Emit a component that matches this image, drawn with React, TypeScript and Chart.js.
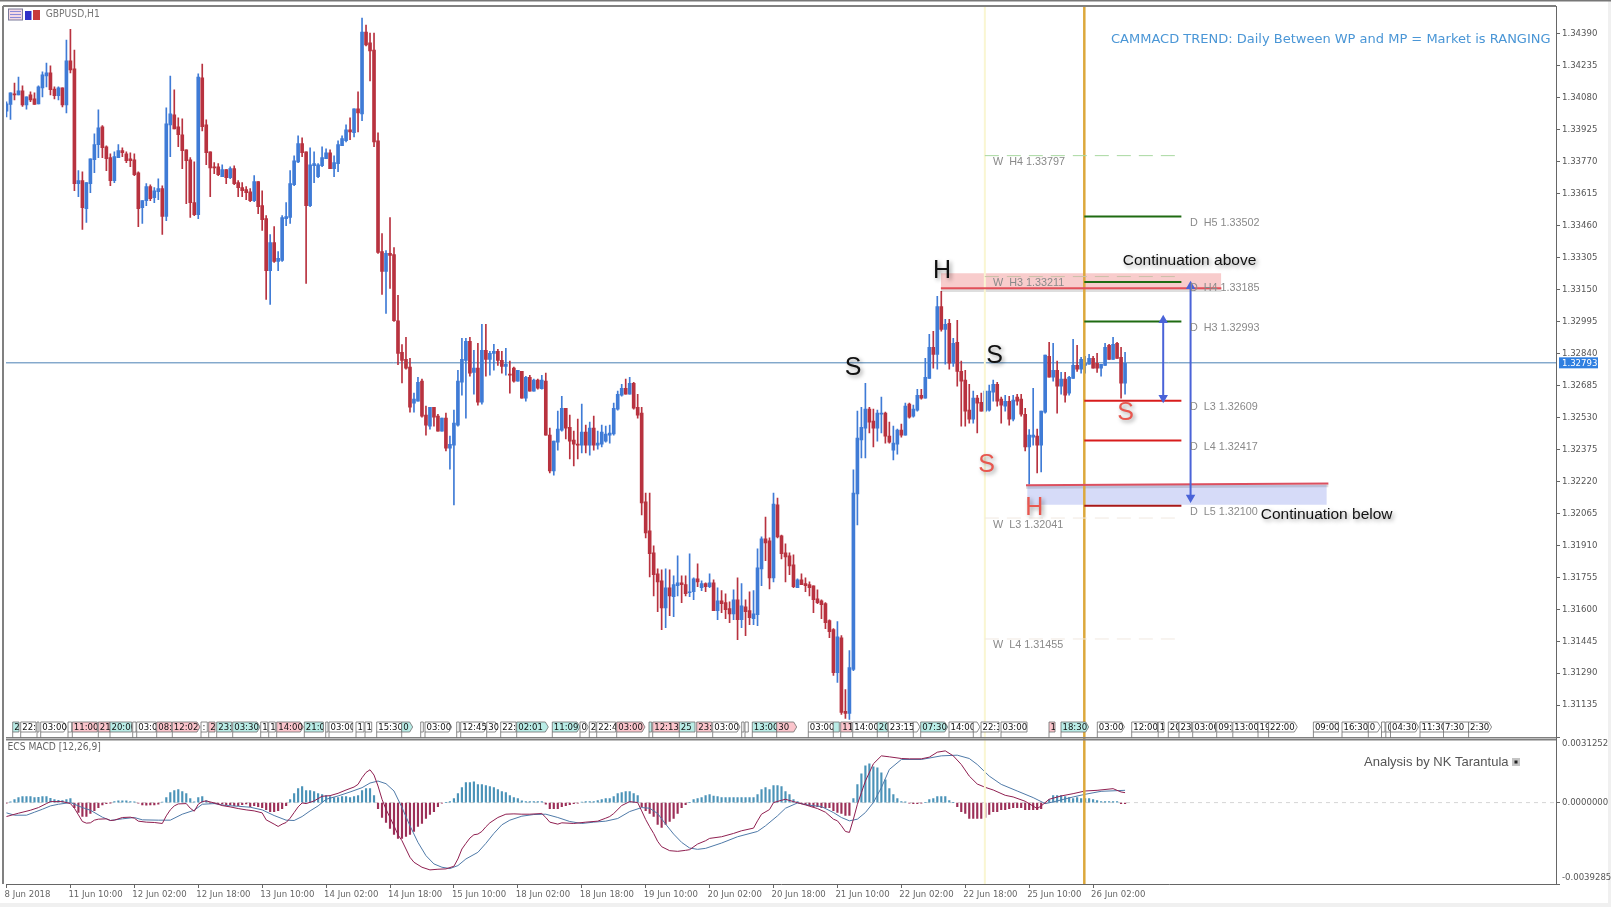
import React, { useEffect, useRef } from "react";
import { Chart, registerables } from "chart.js";

Chart.register(...registerables);

// ---- price candles (price x 100000), one entry per hourly bar ----
const highs = [
134058,134101,134149,134178,134135,134082,134106,134101,134135,134203,
134246,134232,134130,134130,134125,134357,134409,134309,133724,133719,
133666,133782,133903,134019,133942,133845,133806,133816,133850,133835,
133816,133811,133806,133719,133579,133661,133656,133642,133685,133651,
134029,134183,134116,133980,133975,133825,133787,133767,134193,134241,
133971,133816,133763,133758,133753,133729,133743,133748,133676,133666,
133647,133637,133700,133671,133627,133506,133415,133453,133332,133506,
133569,133724,133796,133893,133883,133816,133835,133816,133758,133840,
133830,133825,133796,133869,133893,133946,133980,134024,134106,134464,
134430,134391,134391,133908,133419,133337,133497,133352,133120,132881,
132917,132815,132646,132723,132714,132583,132578,132578,132544,132525,
132549,132438,132564,132757,132912,132912,132917,132854,132888,132979,
132979,132849,132883,132859,132849,132863,132801,132772,132757,132752,
132728,132733,132714,132714,132733,132743,132477,132414,132559,132631,
132573,132540,132462,132520,132593,132491,132506,132535,132462,132491,
132486,132491,132598,132656,132689,132714,132723,132699,132641,132578,
132162,132162,131906,131795,131790,131795,131790,131761,131858,131761,
131761,131868,131751,131819,131737,131727,131771,131742,131703,131689,
131674,131635,131693,131751,131723,131645,131684,131689,131892,131950,
132046,131945,132162,132138,131959,131916,131872,131863,131747,131771,
131751,131732,131713,131693,131645,131631,131548,131505,131539,131471,
131210,131399,132274,132559,132578,132694,132578,132569,132564,132627,
132554,132506,132486,132472,132496,132598,132598,132588,132665,132665,
132815,132931,132946,133115,133139,133004,133004,132912,132999,132801,
132757,132689,132656,132636,132646,132656,132685,132709,132699,132627,
132636,132631,132636,132641,132641,132573,132470,132670,132472,132559,
132830,132892,132888,132801,132747,132747,132728,132907,132878,132820,
132825,132834,132825,132839,132786,132888,132883,132917,132892,132868,
132844];
const lows = [
133985,133972,134067,134091,134035,134022,134058,134045,134048,134082,
134130,134091,134072,134067,134033,134004,134198,133627,133598,133439,
133473,133618,133714,133787,133787,133724,133651,133666,133787,133792,
133763,133743,133700,133453,133468,133555,133579,133569,133584,133415,
133482,133792,133927,133840,133734,133564,133497,133506,133492,133917,
133753,133598,133709,133700,133695,133661,133685,133656,133598,133598,
133584,133574,133574,133516,133434,133100,133076,133279,133240,133284,
133458,133468,133651,133763,133792,133178,133550,133666,133690,133743,
133782,133734,133695,133719,133845,133864,133874,133888,133912,133966,
134328,134159,133840,133323,133124,133033,133154,132994,132784,132696,
132762,132554,132554,132607,132530,132443,132472,132486,132462,132462,
132366,132278,132105,132486,132636,132525,132728,132641,132588,132593,
132728,132733,132757,132781,132743,132733,132646,132699,132704,132622,
132607,132656,132656,132665,132665,132443,132259,132249,132370,132462,
132424,132327,132293,132327,132356,132356,132346,132370,132375,132385,
132409,132404,132443,132564,132631,132641,132641,132569,132525,132056,
131945,131756,131664,131587,131500,131510,131568,131563,131664,131631,
131664,131660,131645,131708,131689,131684,131703,131592,131548,131582,
131553,131534,131548,131452,131510,131471,131524,131524,131519,131713,
131834,131698,131732,131945,131843,131732,131766,131703,131703,131718,
131684,131664,131582,131626,131553,131505,131461,131278,131244,131089,
131070,131065,131302,132008,132332,132332,132453,132385,132414,132453,
132404,132404,132322,132351,132433,132443,132525,132530,132559,132617,
132622,132718,132767,132762,132946,132786,132762,132776,132680,132486,
132486,132501,132501,132453,132559,132554,132559,132607,132583,132501,
132559,132491,132511,132588,132535,132366,132205,132394,132259,132264,
132549,132723,132704,132549,132641,132602,132636,132718,132752,132743,
132743,132786,132767,132747,132728,132781,132810,132810,132815,132622,
132641];
const opens = [
134012,134045,134096,134091,134111,134043,134091,134072,134048,134125,
134183,134198,134120,134087,134125,134043,134256,134217,133661,133676,
133540,133661,133777,133850,133937,133840,133787,133676,133787,133821,
133806,133782,133777,133714,133545,133579,133647,133593,133622,133637,
133502,133946,133995,133937,133898,133825,133777,133569,133511,134174,
133946,133816,133743,133743,133695,133729,133690,133734,133666,133642,
133632,133622,133579,133671,133555,133492,133240,133376,133284,133289,
133492,133497,133656,133767,133855,133816,133555,133748,133695,133748,
133782,133811,133734,133758,133845,133869,133922,133908,134024,133999,
134396,134343,134309,133869,133332,133236,133323,133318,132997,132844,
132810,132772,132598,132607,132704,132540,132486,132578,132535,132462,
132525,132380,132394,132491,132699,132805,132897,132747,132767,132602,
132854,132810,132839,132849,132805,132776,132738,132767,132704,132752,
132622,132723,132656,132709,132668,132704,132443,132269,132409,132467,
132573,132481,132419,132399,132394,132457,132394,132477,132394,132399,
132414,132443,132448,132569,132636,132670,132641,132694,132578,132549,
132119,131979,131872,131771,131737,131606,131703,131660,131713,131727,
131718,131679,131684,131747,131703,131723,131708,131727,131592,131640,
131631,131602,131577,131645,131548,131611,131592,131553,131573,131795,
131940,131930,131751,132105,131955,131872,131858,131814,131703,131742,
131723,131718,131713,131650,131640,131626,131544,131500,131292,131461,
131104,131094,131307,132158,132419,132477,132569,132511,132477,132544,
132549,132438,132370,132399,132467,132443,132593,132535,132564,132636,
132622,132718,132868,132834,133066,132955,132984,132791,132892,132752,
132709,132564,132520,132622,132602,132559,132564,132651,132689,132617,
132583,132607,132520,132627,132617,132544,132385,132433,132438,132394,
132554,132825,132723,132757,132680,132714,132646,132718,132781,132762,
132781,132786,132815,132791,132767,132781,132878,132810,132888,132820,
132694];
const closes = [
134048,134101,134091,134111,134043,134082,134067,134045,134130,134188,
134198,134116,134087,134125,134043,134256,134212,133661,133676,133545,
133666,133782,133850,133932,133835,133782,133676,133792,133821,133811,
133772,133772,133705,133540,133579,133647,133589,133627,133637,133502,
133951,133999,133927,133898,133821,133772,133569,133511,134178,133937,
133811,133738,133738,133705,133729,133690,133734,133661,133642,133627,
133618,133579,133671,133550,133487,133240,133376,133284,133299,133497,
133502,133661,133772,133855,133811,133555,133753,133758,133753,133787,
133811,133734,133763,133850,133879,133922,133912,134024,134004,134396,
134333,134304,133864,133328,133236,133323,133313,132997,132839,132805,
132767,132578,132617,132699,132535,132491,132578,132530,132462,132525,
132380,132398,132501,132704,132810,132897,132743,132767,132602,132854,
132810,132839,132849,132805,132776,132786,132733,132704,132757,132622,
132723,132656,132709,132670,132709,132443,132269,132414,132472,132573,
132477,132414,132399,132394,132457,132394,132477,132394,132404,132457,
132448,132453,132573,132641,132670,132641,132694,132573,132540,132114,
131969,131868,131766,131732,131606,131703,131664,131718,131727,131718,
131674,131684,131747,131732,131723,131708,131727,131592,131640,131626,
131597,131577,131645,131548,131616,131587,131558,131577,131800,131940,
131921,131751,132109,131950,131868,131853,131809,131708,131742,131718,
131713,131703,131645,131631,131621,131534,131490,131292,131466,131099,
131094,131317,132162,132428,132481,132569,132506,132477,132549,132549,
132438,132409,132404,132467,132443,132583,132530,132569,132636,132622,
132723,132868,132834,133066,132955,132979,132791,132888,132752,132704,
132559,132520,132622,132598,132559,132656,132656,132689,132607,132588,
132607,132520,132612,132607,132544,132385,132443,132443,132394,132559,
132830,132723,132757,132680,132714,132636,132723,132781,132762,132810,
132791,132815,132767,132767,132786,132868,132810,132883,132815,132694,
132791];

// ---- MACD histogram, one entry per bar (x 1e-6) ----
const macdHist = [
-32,32,144,240,288,288,288,240,256,288,
288,208,144,112,96,144,192,-240,-480,-672,
-672,-528,-384,-240,-112,-48,-16,48,80,80,
80,48,32,-32,-112,-128,-112,-112,-80,16,
240,480,576,624,528,432,192,32,240,288,
96,-16,-48,-48,-64,-96,-96,-144,-144,-96,
-64,-192,-144,-192,-240,-336,-432,-432,-384,-288,
-144,144,432,672,768,576,576,528,432,384,
336,288,240,240,288,288,240,288,336,576,
672,672,336,-288,-720,-960,-1248,-1536,-1728,-1728,
-1632,-1536,-1392,-1152,-1008,-768,-576,-432,-192,-32,
0,48,192,432,720,960,960,1008,864,864,
816,768,720,624,528,480,336,240,192,80,
48,48,48,48,48,-80,-288,-288,-288,-192,
-144,-96,-48,-32,16,48,48,48,96,144,
192,192,288,432,480,528,528,432,336,-192,
-384,-528,-672,-1056,-1200,-1056,-912,-768,-528,-240,
-96,0,144,192,240,336,384,320,288,240,
240,240,240,240,240,240,240,240,384,624,
720,624,816,816,768,528,384,144,48,-48,
-96,-144,-192,-192,-240,-240,-240,-384,-480,-528,
-624,-624,192,864,1392,1776,1872,1728,1680,1440,
1104,672,384,192,48,32,-32,-48,-48,-32,
0,144,192,288,288,288,96,0,-192,-432,
-528,-768,-768,-768,-768,-720,-576,-432,-432,-336,
-336,-288,-240,-240,-240,-336,-336,-336,-336,-288,
-48,144,336,336,336,288,240,192,240,192,
192,192,144,96,48,48,48,48,48,-48,
-48];

// ---- MACD main line, read at the bars listed (x 1e-6) ----
const macdLineBars = [0,3,6,8,10,11,14,16,17,18,19,20,21,22,23,25,26,27,29,31,32,33,35,37,39,40,41,42,43,45,46,47,48,49,50,52,54,56,58,60,62,64,65,67,68,69,70,71,72,73,74,75,77,79,81,83,85,87,88,89,90,91,92,93,94,95,96,97,98,99,100,101,102,104,106,108,110,112,113,114,115,116,117,118,119,120,121,123,125,127,129,131,134,135,136,138,139,142,145,148,150,151,152,154,156,158,159,160,161,162,163,164,166,168,170,171,173,175,176,179,182,184,187,188,189,191,192,194,195,197,200,203,205,207,208,209,210,211,212,213,214,215,217,219,221,224,226,229,231,233,235,237,239,241,243,245,247,250,252,255,258,259,261,264,267,270,273,277,279,280];
const macdLine = [-672,-512,-368,-240,-48,48,48,-48,-272,-592,-912,-992,-976,-848,-800,-784,-864,-848,-720,-704,-752,-896,-944,-960,-1008,-640,-352,-160,-64,-48,-272,-416,-80,48,80,-16,-144,-208,-288,-352,-400,-496,-832,-1040,-1152,-1040,-960,-752,-480,-208,-16,-48,80,304,336,448,608,752,880,1200,1456,1584,1328,800,160,-320,-720,-1120,-1552,-1840,-2240,-2640,-2880,-3120,-3248,-3216,-3200,-3072,-2720,-2240,-1968,-1712,-1552,-1520,-1392,-1168,-976,-720,-560,-544,-560,-560,-528,-720,-944,-1040,-976,-1008,-944,-896,-752,-672,-528,-144,48,0,-400,-816,-1168,-1488,-1872,-2128,-2320,-2352,-2304,-2272,-2000,-1840,-1728,-1648,-1488,-1360,-1232,-880,-560,-336,0,112,160,48,-112,-288,-464,-800,-880,-1120,-1392,-1440,-800,-80,480,1040,1872,2256,2208,2128,2112,2112,2192,2432,2496,2256,1840,1280,896,736,608,352,272,64,-288,-160,160,320,432,560,592,672,512,480];

// ---- MACD signal line, read at the bars listed (x 1e-6) ----
const signalLineBars = [0,2,5,7,9,11,13,16,19,21,24,26,29,32,34,38,41,44,47,49,52,55,58,61,64,67,70,72,74,76,78,80,83,86,89,91,93,95,97,99,101,103,105,107,109,111,113,115,118,120,122,124,126,129,132,135,138,141,144,147,150,153,156,159,161,163,165,167,169,171,173,175,179,183,188,190,193,195,198,201,204,207,209,211,213,215,217,219,221,224,229,234,238,241,243,246,249,253,257,260,262,267,270,274,280];
const signalLine = [-496,-608,-608,-464,-320,-160,-80,0,-240,-368,-704,-864,-784,-720,-832,-848,-848,-560,-368,-80,-48,-144,-176,-224,-352,-624,-848,-864,-672,-400,-160,160,320,512,720,944,1040,912,560,-240,-1120,-1920,-2560,-2960,-3120,-3184,-3040,-2720,-2400,-1968,-1488,-1072,-848,-656,-576,-560,-720,-912,-1008,-944,-896,-768,-432,-240,-272,-528,-1040,-1520,-1920,-2192,-2256,-2208,-1952,-1648,-1392,-1120,-640,-272,-16,-128,-192,-480,-720,-880,-800,-480,0,720,1600,2080,2080,2256,2288,2128,1840,1280,880,560,240,-48,32,272,400,544,592];

// ---- axes ----
const priceTicks = [1.3439,1.34235,1.3408,1.33925,1.3377,1.33615,1.3346,1.33305,1.3315,1.32995,1.3284,1.32685,1.3253,1.32375,1.3222,1.32065,1.3191,1.31755,1.316,1.31445,1.3129,1.31135];
const timeTickBars = [0,16,32,48,64,80,96,112,128,144,160,176,192,208,224,240,256,272];
const timeLabels = ["8 Jun 2018","11 Jun 10:00","12 Jun 02:00","12 Jun 18:00","13 Jun 10:00","14 Jun 02:00","14 Jun 18:00","15 Jun 10:00","18 Jun 02:00","18 Jun 18:00","19 Jun 10:00","20 Jun 02:00","20 Jun 18:00","21 Jun 10:00","22 Jun 02:00","22 Jun 18:00","25 Jun 10:00","26 Jun 02:00"];
const macdTop = 0.0031252;
const macdBottom = -0.0039285;
const currentPrice = 1.32793;

// ---- pivot levels ----
const dailyLevels = [
  { name: "D  H5 1.33502", price: 1.33502, color: "#1f6b12" },
  { name: "D  H4 1.33185", price: 1.33185, color: "#1f6b12" },
  { name: "D  H3 1.32993", price: 1.32993, color: "#1f6b12" },
  { name: "D  L3 1.32609", price: 1.32609, color: "#d81c1c" },
  { name: "D  L4 1.32417", price: 1.32417, color: "#d81c1c" },
  { name: "D  L5 1.32100", price: 1.321, color: "#a81818" },
];
const weeklyLevels = [
  { name: "W  H4 1.33797", price: 1.33797, color: "#a8d8a0" },
  { name: "W  H3 1.33211", price: 1.33211, color: "#c9c0a8" },
  { name: "W  L3 1.32041", price: 1.32041, color: "#f0e8e0" },
  { name: "W  L4 1.31455", price: 1.31455, color: "#f0e8e0" },
];

// ---- event tags on the bottom row of the price pane: [left, right, label, fill, arrow] ----
type Tag = [number, number, string, "w" | "p" | "c", number?];
const tags: Tag[] = [
[12.7,19,"2","c"],[20.7,36,"22:00","w"],[37,39,"","w"],[40.7,66.7,"03:00","w",1],[68,71.7,"","w"],[72.3,97.3,"11:00","p"],[98.3,110,"21","p"],[110,131.7,"20:00","c"],[132.7,136,"","w"],[136.7,156,"03:00","w"],[156.7,171.7,"08:00","p"],[172.3,200,"12:02","p",1],[201,207.3,":","w"],[208.7,215,"2","p"],[216.7,231.7,"23:00","c"],[232.7,260,"03:30","c",1],[260.7,267.7,"1","w"],[268.7,275.3,"1","w"],[276.7,303.3,"14:00","p",1],[304.3,323.3,"21:00","c"],[325.7,328,"","w"],[329,352.7,"03:00","w"],[356,364,"1","w"],[365,371.7,"1","w"],[376.7,401.7,"15:30","w"],[401.7,412.7,"0","c",1],[420.7,423.3,"","w"],[425,451.7,"03:00","w",1],[456.7,459.3,"","w"],[460.7,486.7,"12:45","w",1],[486.7,498.3,"30","w",1],
[500.7,516,"22:00","w"],[516.7,548.3,"02:01","c",1],[552.3,580,"11:09","c",1],[580,588.3,"0","w",1],[589.3,596,"2","w"],[596.7,615.7,"22:45","w"],[616.7,645,"03:00","p",1],[649,651.7,"","c"],[652.7,679.3,"12:13","p"],[679.3,695,"25","c"],[696.7,711.7,"23:00","p"],[712.7,740,"03:00","w",1],[741.7,744,"","w"],[745,748.3,"","w"],[752.3,776.7,"13:00","c"],[776.7,796.7,"30","p",1],[808.3,833.3,"03:00","w"],[833.3,839.3,"","c"],[840.7,851.7,"11","p"],[852.7,877.3,"14:00","w"],[877.3,887.3,"20","c"],[888.3,913.3,"23:15","w"],[913.3,920,"","w",1],[920.7,947.7,"07:30","c",1],[949,973.3,"14:00","w"],[973.3,980,"","w",1],[981,999,"22:30","w"],[1001,1027,"03:00","w"],[1049,1055,"1","p"],[1061,1088.7,"18:30","c",1],[1097.3,1124.5,"03:00","w",1],[1131.7,1157.5,"12:00","w"],[1158.2,1164,"1","w"],[1168.3,1178.3,"20","w"],[1179,1191.6,"23","w"],[1192.7,1215.6,"03:00","w"],[1216.7,1232,"09:","w"],[1232.8,1258,"13:00","w"],[1258,1268.6,"19","w"],[1268.6,1297.3,"22:00","w",1],[1313.4,1338.5,"09:00","w"],[1342,1368.3,"16:30","w"],[1368.3,1380.5,"0","w",1],[1381.5,1385,"","w"],[1385.8,1390.5,"(","w"],[1390.5,1418.5,"04:30","w",1],[1420,1443.5,"11:30","w"],[1443.5,1468.6,"7:30","w"],[1468.6,1491.6,"2:30","w",1],
];
const tagFill = { w: "#ffffff", p: "#fbc5cc", c: "#b9ece6" };

// ---- hand-drawn analysis texts: [text, x, y, color] ----
const ARIAL = '"Liberation Sans", Arial, sans-serif';
const SMALL = '"DejaVu Sans Condensed", "Liberation Sans", sans-serif';
const notes: [string, number, number, string][] = [
  ["H", 942, 271, "#111111"],
  ["S", 853, 368, "#111111"],
  ["S", 994.7, 355.7, "#111111"],
  ["S", 986.7, 465.3, "#e8574f"],
  ["S", 1125.7, 413, "#e8574f"],
  ["H", 1034.3, 508, "#e8574f"],
];

const BAR_MIN = -0.125;
const BAR_MAX = 387.875;
const goldBar = 269.8;
const paleBar = 244.9;
const levelEndBar = 294.1;

const idx = highs.map((_, i) => i);
const P = (v: number) => v / 100000;
const M = (v: number) => v / 1000000;

function seg(x1: number, y1: number, x2: number, y2: number) {
  return [{ x: x1, y: y1 }, { x: x2, y: y2 }];
}

const panelPlugin = {
  id: "panel",
  beforeDraw(chart: any) {
    const { ctx, width, height } = chart;
    ctx.save();
    ctx.fillStyle = "#ffffff";
    ctx.fillRect(0, 0, width, height);
    ctx.fillStyle = "#f0f0f0";
    ctx.fillRect(0, 903, width, 4);
    ctx.fillRect(1608, 0, 3, height);
    ctx.fillStyle = "#777777";
    ctx.fillRect(0, 0, width, 1.5);
    ctx.restore();
  },
  afterDraw(chart: any) {
    const { ctx, chartArea, scales } = chart;
    const { left, right, top, bottom } = chartArea;
    const sep = scales.y.bottom;
    ctx.save();
    // pane borders
    ctx.strokeStyle = "#808080";
    ctx.lineWidth = 2;
    ctx.beginPath();
    ctx.moveTo(3, top);
    ctx.lineTo(right, top);
    ctx.moveTo(3, top);
    ctx.lineTo(3, bottom);
    ctx.stroke();
    ctx.lineWidth = 1.5;
    ctx.beginPath();
    ctx.moveTo(left, sep);
    ctx.lineTo(right, sep);
    ctx.moveTo(left, sep + 2);
    ctx.lineTo(right, sep + 2);
    ctx.stroke();

    // event tags
    ctx.textBaseline = "middle";
    ctx.font = `9.5px ${SMALL}`;
    for (const [a, b, label, fill, arrow] of tags) {
      const t = 722;
      const h = 10;
      ctx.beginPath();
      ctx.moveTo(a, t);
      if (arrow) {
        ctx.lineTo(b - 3, t);
        ctx.lineTo(b, t + h / 2);
        ctx.lineTo(b - 3, t + h);
      } else {
        ctx.lineTo(b, t);
        ctx.lineTo(b, t + h);
      }
      ctx.lineTo(a, t + h);
      ctx.closePath();
      ctx.fillStyle = tagFill[fill];
      ctx.fill();
      ctx.strokeStyle = "#6f6f6f";
      ctx.lineWidth = 0.8;
      ctx.stroke();
      ctx.beginPath();
      ctx.moveTo(a, t + h);
      ctx.lineTo(a, sep);
      ctx.stroke();
      if (label) {
        ctx.save();
        ctx.beginPath();
        ctx.rect(a, t, b - a, h);
        ctx.clip();
        ctx.fillStyle = "#111111";
        ctx.textAlign = "left";
        ctx.fillText(label, a + 1.5, t + h / 2 + 0.5);
        ctx.restore();
      }
    }

    // level labels
    ctx.textAlign = "left";
    ctx.textBaseline = "middle";
    ctx.font = `10.8px ${ARIAL}`;
    ctx.fillStyle = "#8a8a8a";
    dailyLevels.forEach((l) => {
      ctx.fillText(l.name, 1190, scales.y.getPixelForValue(l.price) + 6.5);
    });
    weeklyLevels.forEach((l) => {
      ctx.fillText(l.name, 993, scales.y.getPixelForValue(l.price) + 6.5);
    });

    // analysis letters
    ctx.save();
    ctx.shadowColor = "rgba(0,0,0,0.4)";
    ctx.shadowBlur = 4;
    ctx.shadowOffsetX = 2;
    ctx.shadowOffsetY = 2;
    ctx.textAlign = "center";
    ctx.font = `25px ${ARIAL}`;
    notes.forEach(([s, x, y, c]) => {
      ctx.fillStyle = c;
      ctx.fillText(s, x, y);
    });
    ctx.textAlign = "left";
    ctx.font = `15.5px ${ARIAL}`;
    ctx.fillStyle = "#111111";
    ctx.fillText("Continuation above", 1122.7, 260.3);
    ctx.fillText("Continuation below", 1260.7, 514.3);
    ctx.restore();

    // header texts
    ctx.fillStyle = "#4a96d6";
    ctx.font = '13px "DejaVu Sans", sans-serif';
    ctx.fillText("CAMMACD TREND: Daily Between WP and MP = Market is RANGING", 1111, 40, 441);
    ctx.fillStyle = "#777777";
    ctx.font = `10.2px ${SMALL}`;
    ctx.fillText("GBPUSD,H1", 45.7, 14.7);
    ctx.fillStyle = "#666666";
    ctx.fillText("ECS MACD [12,26,9]", 7.5, 747.5);
    ctx.fillStyle = "#555555";
    ctx.font = `13px ${ARIAL}`;
    ctx.fillText("Analysis by NK Tarantula", 1364, 762);
    ctx.fillStyle = "#c4c4c4";
    ctx.fillRect(1512, 758, 8, 8);
    ctx.fillStyle = "#222222";
    ctx.fillRect(1514.5, 760.5, 3, 3);

    // window icons
    ctx.strokeStyle = "#7a7a9a";
    ctx.lineWidth = 1;
    ctx.fillStyle = "#f3d8e4";
    ctx.fillRect(8.5, 9, 14, 11);
    ctx.strokeRect(8.5, 9, 14, 11);
    ctx.fillStyle = "#8a8ad8";
    for (let k = 0; k < 3; k++) ctx.fillRect(10, 11 + k * 3, 11, 1);
    ctx.fillStyle = "#3030c8";
    ctx.fillRect(25, 11, 6.5, 9);
    ctx.fillStyle = "#c83a3a";
    ctx.fillRect(33, 10, 7, 10);

    // macd end labels, kept inside the pane
    ctx.fillStyle = "#555555";
    ctx.font = `9.5px ${SMALL}`;
    ctx.fillText("0.0031252", 1562, 743.5);
    ctx.fillText("-0.0039285", 1562, 878);

    // last price tag
    const py = scales.y.getPixelForValue(currentPrice);
    ctx.fillStyle = "#2f7fe0";
    ctx.fillRect(1559, py - 5.5, 39, 11);
    ctx.fillStyle = "#ffffff";
    ctx.fillText(currentPrice.toFixed(5), 1562, py + 0.5);
    ctx.restore();
  },
};

export default function App() {
  const ref = useRef<HTMLCanvasElement>(null);
  useEffect(() => {
    const pane = (lo: number, hi: number, bar: number, color: string, w: number, yId: string) => ({
      type: "line" as const,
      data: seg(bar, lo, bar, hi),
      borderColor: color,
      borderWidth: w,
      pointRadius: 0,
      yAxisID: yId,
      order: 5,
    });
    const hline = (d: any[], color: string, w: number, extra: any = {}) => ({
      type: "line" as const,
      data: d,
      borderColor: color,
      borderWidth: w,
      pointRadius: 0,
      yAxisID: "y",
      order: 4,
      ...extra,
    });
    const arrow = (bar: number, hi: number, lo: number) => ({
      type: "line" as const,
      data: seg(bar, hi, bar, lo),
      borderColor: "#4a63d8",
      backgroundColor: "#4a63d8",
      borderWidth: 2,
      pointStyle: "triangle",
      pointRadius: 3.5,
      pointRotation: [0, 180],
      yAxisID: "y",
      order: 1,
    });
    const fitY = (s: any) => {
      s.width = 55;
      s.paddingTop = 0;
      s.paddingBottom = 0;
    };

    const chart = new Chart(ref.current!, {
      type: "bar",
      data: {
        datasets: [
          // bands behind everything
          hline(seg(233.9, 1.33227, 304.1, 1.33227), "rgba(0,0,0,0)", 0, {
            fill: { value: 1.33149 },
            backgroundColor: "#f8cccc",
            order: 30,
          }),
          hline(seg(255.5, 1.32202, 330.5, 1.32202), "rgba(0,0,0,0)", 0, {
            fill: { value: 1.32105 },
            backgroundColor: "#d6dbf8",
            order: 30,
          }),
          hline(seg(BAR_MIN, currentPrice, BAR_MAX, currentPrice), "#4a80b4", 1, { order: 25 }),
          pane(1.3, 1.35, paleBar, "#faf6d2", 2, "y"),
          pane(macdBottom, macdTop, paleBar, "#faf6d2", 2, "macd"),
          // candles
          {
            type: "bar" as const,
            data: idx.map((i) => ({ x: i, y: [P(lows[i]), P(highs[i])] })),
            backgroundColor: idx.map((i) => (closes[i] >= opens[i] ? "#3f7bd6" : "#b8323f")),
            barThickness: 1,
            grouped: false,
            yAxisID: "y",
            order: 12,
          },
          {
            type: "bar" as const,
            data: idx.map((i) => ({ x: i, y: [P(opens[i]), P(closes[i])] })),
            backgroundColor: idx.map((i) => (closes[i] >= opens[i] ? "#3f7bd6" : "#b8323f")),
            barThickness: 3,
            grouped: false,
            yAxisID: "y",
            order: 11,
          },
          // levels
          ...weeklyLevels.map((l) =>
            hline(seg(paleBar, l.price, levelEndBar, l.price), l.color, 1, { borderDash: [14, 8] })
          ),
          ...dailyLevels.map((l) =>
            hline(seg(goldBar, l.price, levelEndBar, l.price), l.color, 2)
          ),
          hline(seg(233.9, 1.33144, 304.1, 1.33144), "rgba(0,0,0,0.13)", 3, { order: 6 }),
          hline(seg(255.2, 1.3219, 330.9, 1.32198), "rgba(0,0,0,0.13)", 3, { order: 6 }),
          hline(seg(233.9, 1.33154, 304.1, 1.33154), "#e2505a", 2),
          hline(seg(255.2, 1.322, 330.9, 1.32208), "#dc5060", 2),
          pane(1.3, 1.35, goldBar, "#dca83c", 2.5, "y"),
          pane(macdBottom, macdTop, goldBar, "#dca83c", 2.5, "macd"),
          arrow(289.55, 1.32999, 1.32624),
          arrow(296.4, 1.33164, 1.3214),
          // macd
          {
            type: "line" as const,
            data: seg(BAR_MIN, 0, BAR_MAX, 0),
            borderColor: "#d6d6d6",
            borderWidth: 1,
            borderDash: [4, 4],
            pointRadius: 0,
            yAxisID: "macd",
            order: 20,
          },
          {
            type: "bar" as const,
            data: idx.map((i) => ({ x: i, y: M(macdHist[i]) })),
            backgroundColor: idx.map((i) => (macdHist[i] >= 0 ? "#4b93b8" : "#9c2f57")),
            barThickness: 1.5,
            grouped: false,
            yAxisID: "macd",
            order: 9,
          },
          {
            type: "line" as const,
            data: signalLineBars.map((b, i) => ({ x: b, y: M(signalLine[i]) })),
            borderColor: "#4f7aa8",
            borderWidth: 1,
            pointRadius: 0,
            yAxisID: "macd",
            order: 8,
          },
          {
            type: "line" as const,
            data: macdLineBars.map((b, i) => ({ x: b, y: M(macdLine[i]) })),
            borderColor: "#8f1f50",
            borderWidth: 1,
            pointRadius: 0,
            yAxisID: "macd",
            order: 7,
          },
        ] as any,
      },
      options: {
        responsive: false,
        animation: false,
        events: [],
        layout: { padding: { left: 4, top: 4, right: 0, bottom: 0 } },
        plugins: { legend: { display: false }, tooltip: { enabled: false } },
        scales: {
          x: {
            type: "linear",
            offset: false,
            min: BAR_MIN,
            max: BAR_MAX,
            afterBuildTicks: (s: any) => {
              s.ticks = timeTickBars.map((value) => ({ value }));
            },
            afterFit: (s: any) => {
              s.height = 23;
              s.paddingLeft = 0;
              s.paddingRight = 0;
            },
            border: { color: "#666666" },
            grid: { offset: false, drawOnChartArea: false, color: "#666666", tickLength: 4 },
            ticks: {
              autoSkip: false,
              maxRotation: 0,
              align: "start",
              labelOffset: -2,
              padding: 1,
              color: "#666666",
              font: { family: SMALL, size: 9.5 },
              callback: (_v: any, i: number) => timeLabels[i],
            },
          },
          y: {
            type: "linear",
            position: "right",
            stack: "panes",
            stackWeight: 733.5,
            min: 1.30976,
            max: 1.34522,
            afterBuildTicks: (s: any) => {
              s.ticks = priceTicks.map((value) => ({ value }));
            },
            afterFit: fitY,
            border: { color: "#666666" },
            grid: { drawOnChartArea: false, color: "#666666", tickLength: 4 },
            ticks: {
              autoSkip: false,
              padding: 2,
              color: "#555555",
              font: { family: SMALL, size: 9.5 },
              callback: (v: any) => Number(v).toFixed(5),
            },
          },
          macd: {
            type: "linear",
            position: "right",
            stack: "panes",
            stackWeight: 146.5,
            min: macdBottom,
            max: macdTop,
            afterBuildTicks: (s: any) => {
              s.ticks = [macdBottom, 0, macdTop].map((value) => ({ value }));
            },
            afterFit: fitY,
            border: { color: "#666666" },
            grid: { drawOnChartArea: false, color: "#666666", tickLength: 4 },
            ticks: {
              autoSkip: false,
              padding: 2,
              color: "#555555",
              font: { family: SMALL, size: 9.5 },
              callback: (v: any) => (v === 0 ? "0.0000000" : ""),
            },
          },
        },
      } as any,
      plugins: [panelPlugin],
    });
    return () => chart.destroy();
  }, []);
  return (
    <div style={{ position: "absolute", left: 0, top: 0, width: 1611, height: 907 }}>
      <canvas ref={ref} width={1611} height={907} style={{ display: "block" }} />
    </div>
  );
}
